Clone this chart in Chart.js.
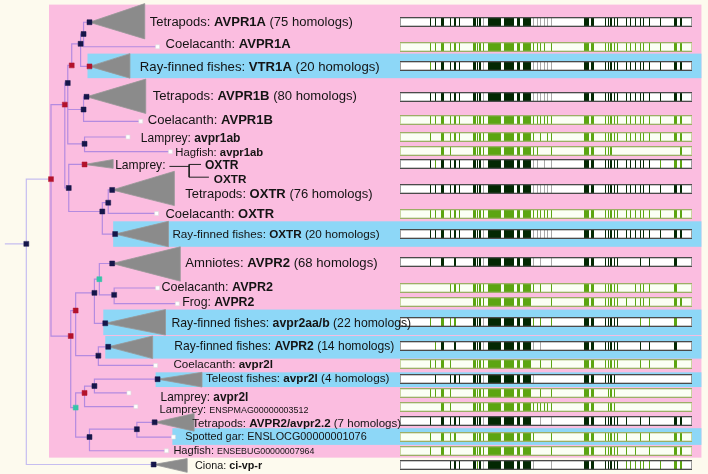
<!DOCTYPE html>
<html><head><meta charset="utf-8">
<script src="https://cdn.jsdelivr.net/npm/chart.js@4"></script>
<style>html,body{margin:0;padding:0;background:#fdfaee;}#wrap{width:708px;height:474px;position:relative;}</style>
</head><body><div id="wrap"><canvas id="c"></canvas></div>
<script>
// ---------- tree data (x = branch depth, y = row position) ----------
const nodeX = [22,47,61,64,68,77,80,86,155,86,80,83,138,81,125,168,65,81,99,105,109,154,112,67,72,91,96,109,111,155,175,102,95,105,153,72,81,91,155,126,133,86,134,152,171,164,151];
const nodeY = [244,178,102,80,62,40,30,18,43,63,107,94,119,142,135,150,187,163,211,202,189,213,234,338,312,294,280,264,296,289,305,325,358,349,368,411,396,389,382,396,410,441,433,426,441,455,469];
const nodeParent = [-1,0,1,2,3,4,5,6,6,5,3,10,10,3,13,13,2,16,16,18,19,19,18,1,23,24,25,26,26,28,28,25,24,32,32,23,35,36,37,37,36,35,41,42,42,41,0];
const nodeKind = "nrrnrnnnlrnnlnllnrnnnlnrrntnnllnnnltrnnllnnnlln".split('');
const rootStemX = 0;

// collapsed clades (triangles): apex node, base depth, top row, bottom row
const triApex = [7,9,11,17,20,22,27,31,33,38,43,46];
const triBase = [142,127,143,110,172,166,178,163,150,200,192,185];
const triTop  = [-1,50,76,158,170,221,247,311,338,375,417,463];
const triBot  = [35,75,111,167,205,247,282,337,361,390,435,477];

// shaded groups
const pinkBox = [45,0,706,462];
const bandX0 = [84,110,100,102,153,170];
const bandY0 = [50,221,311,338,375,432];
const bandY1 = [75,247,337,361,390,449];
const bandX1 = 706;

// labels
const labelParts = [
 [["Tetrapods: ","n"],["AVPR1A","b"],[" (75 homologs)","n"]],
 [["Coelacanth: ","n"],["AVPR1A","b"]],
 [["Ray-finned fishes: ","n"],["VTR1A","b"],[" (20 homologs)","n"]],
 [["Tetrapods: ","n"],["AVPR1B","b"],[" (80 homologs)","n"]],
 [["Coelacanth: ","n"],["AVPR1B","b"]],
 [["Lamprey: ","n"],["avpr1ab","b"]],
 [["Hagfish: ","n"],["avpr1ab","b"]],
 [["Lamprey:","n"]],
 [["OXTR","b"]],
 [["OXTR","b"]],
 [["Tetrapods: ","n"],["OXTR","b"],[" (76 homologs)","n"]],
 [["Coelacanth: ","n"],["OXTR","b"]],
 [["Ray-finned fishes: ","n"],["OXTR","b"],[" (20 homologs)","n"]],
 [["Amniotes: ","n"],["AVPR2","b"],[" (68 homologs)","n"]],
 [["Coelacanth: ","n"],["AVPR2","b"]],
 [["Frog: ","n"],["AVPR2","b"]],
 [["Ray-finned fishes: ","n"],["avpr2aa/b","b"],[" (22 homologs)","n"]],
 [["Ray-finned fishes: ","n"],["AVPR2","b"],[" (14 homologs)","n"]],
 [["Coelacanth: ","n"],["avpr2l","b"]],
 [["Teleost fishes: ","n"],["avpr2l","b"],[" (4 homologs)","n"]],
 [["Lamprey: ","n"],["avpr2l","b"]],
 [["Lamprey: ","n"],["ENSPMAG00000003512","s"]],
 [["Tetrapods: ","n"],["AVPR2/avpr2.2","b"],[" (7 homologs)","n"]],
 [["Spotted gar: ENSLOCG00000001076","n"]],
 [["Hagfish: ","n"],["ENSEBUG00000007964","s"]],
 [["Ciona: ","n"],["ci-vp-r","b"]]
];
const labelX   = [147,163,137,150,145,138,173,112,203,212,183,163,170,183,159,180,169,172,171,204,158,157,190,183,171,193];
const labelY   = [18,40,63,93,118,136,151,164,164,178,193,213,234,263,288,303,325,348,367,381,400,413,427,440,455,470];
const labelEnd = [353,290,380,357,272,239,262,163,237,245,373,273,380,378,272,253,412,395,272,390,247,308,402,367,314,261];

// lamprey OXTR bracket
const bracketX = [167,187,null,199,187,187,207];
const bracketY = [165,165,null,163,163,176,176];

// alignment overview
const alnX0 = 401, alnLen = 295;
const colStart = [29.5,35,41.3,50.7,54.7,59.3,73.3,77.7,79.7,83.3,88.3,105,117.7,124,134.7,138,141.7,145,148.3,152.3,185.7,192.7,207.3,210,212,216,219,229,233,237.7,242.3,246,252.3,263,277.7,283.7];
const colEnd   = [31,36,44,51.7,56.7,60.3,76.3,79,81.7,84.3,102.3,115,121.3,132.3,135.7,139,142.7,146,149.3,153.3,190.7,196.3,208.3,211,214.3,217,220,230,234,238.7,243.3,247,253.3,264,280,285];
const barY = [18,43,63,94,118,135,149,163,188,214,234,263,289,303,324,348,367,382,396,410,425,441,455,470];
const barKind = "dgddgggddgddggddgdggdggd".split('');
const barPattern = [
 "DDDDDD DDDL DDDD LLLLLL DD DDDDD DDDDDDD DD",
 "GGGGGG GGGG GGGG GGGG.G GG GGGGG GGGGGGG GG",
 "GDDDDD DDDL DDDD LLLLLL DD DDDDD DDDDDDD DD",
 "DDDDDD DDDL DDDD LLLLLL DD DDDDD DDDDDDD DD",
 "GGGGGG GGGG GGGG GGGGGG GG GGGGG GGGGGGG GG",
 "G.GGGG GGGG GGGG G.G.GG GG GGGGG GGGGGGG GG",
 "..GG.. GGGG GGGG GG...G GG GGG.. ....... .G",
 "DGDDDD DDDL DDDD LL.L.L DD DDDDD DDDDDDG GG",
 "DDDDDD DDDL DDDD LLLLLL DD DDDDD DDDDDDD DD",
 "GGGGGG GGGG GGGG GGGGGG GG GGGGG GGGGGGG GG",
 "DDDDDD DDDL DDDD LLLLLL DD DDDDD DDDDDDD DD",
 "D.D.D. DDDL DDDD L.L..L DD DDDDD ...D.D. D.",
 "...GGG GGGG GGGG G.G..G GG GGGGG ..GGGG. G.",
 "...... GGGG GGGG .....G GG GGGGG G.GGGG. GG",
 "G.GGG. DDDL DDDD G.G..G DD DDDDD ...G.G. G.",
 ".GD.D. DDDL DDDD L.L... DD DDDDD ...D.D. D.",
 "GGGG.. GGGG GGGG ..G..G GG GGGGG ...G.G. G.",
 ".D.DDD DDDL DDDD L..... DD DDDD. ....... ..",
 "GGGG.. GGGG GGGG ..G..G GG .GGG. ....... ..",
 "..GG.. GGGG GGGG GGGGGG GG .GGG. ....... ..",
 "D.DDDD DDDL DDDD ..L..L DD DDDDD D..D.D. DD",
 "G.GGG. GGGG GGGG G....G GG GGGGG G..G.G. GG",
 "G.GG.. GGGG GGGG .....G GG GGGGG G.G..G. GG",
 "...DDD DGDL DDDD L....L DD DDDDD GGGGGGG GG"
];

// ---------- styles ----------
const CREAM='#fdfaee', PINK='#fbbde0', BLUE='#8dd7f7', TRI='#8b8b8b';
const EDGE='#b48be0', EDGE_OUT='#c6bdf0';
const KIND_COL={n:'#16164a', r:'#b3122c', t:'#35c4a8'};
const CELL_COL={D:'#032803', G:'#5ca512', L:'#a9a9a9'};
const FAM='"Liberation Sans", Arial, Helvetica, sans-serif';

// ---------- build datasets ----------
const inner=[], outer=[];
for(let i=0;i<nodeX.length;i++){
  const p=nodeParent[i]; if(p<0) continue;
  const arr = p===0 ? outer : inner;
  arr.push({x:nodeX[p],y:nodeY[p]},{x:nodeX[p],y:nodeY[i]},{x:nodeX[i],y:nodeY[i]},{x:nodeX[i],y:null});
}
outer.push({x:rootStemX,y:nodeY[0]},{x:nodeX[0],y:nodeY[0]});
const markPts=[], markCols=[], leafPts=[];
nodeX.forEach((x,i)=>{
  if(nodeKind[i]==='l') leafPts.push({x,y:nodeY[i]});
  else { markPts.push({x,y:nodeY[i]}); markCols.push(KIND_COL[nodeKind[i]]); }
});
const bracket = bracketX.map((x,i)=>({x:x===null?0:x,y:bracketY[i]}));

const paintPlugin={
  id:'paint',
  beforeDatasetsDraw(chart){
    const {ctx,scales:{x,y}}=chart;
    const X=v=>x.getPixelForValue(v), Y=v=>y.getPixelForValue(v);
    ctx.save();
    ctx.fillStyle=CREAM; ctx.fillRect(0,0,chart.width,chart.height);
    ctx.fillStyle=PINK;
    ctx.fillRect(X(pinkBox[0]),Y(pinkBox[1]),X(pinkBox[2])-X(pinkBox[0]),Y(pinkBox[3])-Y(pinkBox[1]));
    ctx.fillStyle=BLUE;
    bandX0.forEach((bx,i)=>{ctx.fillRect(X(bx),Y(bandY0[i]),X(bandX1)-X(bx),Y(bandY1[i])-Y(bandY0[i]));});
    // triangles
    ctx.fillStyle=TRI; ctx.strokeStyle='#989898'; ctx.lineWidth=0.8;
    triApex.forEach((a,i)=>{
      ctx.beginPath();
      ctx.moveTo(X(nodeX[a]),Y(nodeY[a]));
      ctx.lineTo(X(triBase[i]),Y(triTop[i]));
      ctx.lineTo(X(triBase[i]),Y(triBot[i]));
      ctx.closePath(); ctx.fill(); ctx.stroke();
    });
    // alignment bars
    barY.forEach((by,r)=>{
      const yc=Y(by), top=Math.round(yc-4), h=8;
      const x0=Math.round(X(alnX0)), x1=Math.round(X(alnX0+alnLen));
      const dark=barKind[r]==='d';
      ctx.fillStyle=dark?'#ffffff':'#fbfff4';
      ctx.fillRect(x0,top,x1-x0,h);
      const pat=barPattern[r].replace(/ /g,'');
      for(let c=0;c<colStart.length;c++){
        const ch=pat[c]; if(!ch||ch==='.') continue;
        const a=Math.round(X(alnX0+colStart[c])), b=Math.round(X(alnX0+colEnd[c]));
        ctx.fillStyle=CELL_COL[ch];
        ctx.fillRect(a,top,Math.max(1,b-a),h);
      }
      ctx.fillStyle=dark?'#4a4a4a':'#9cae66';
      ctx.fillRect(x0,top-1,x1-x0,1.3);
      ctx.fillRect(x0,top+h-0.3,x1-x0,1.3);
      ctx.fillStyle=dark?'#9a9a9a':'#c8d4a0';
      ctx.fillRect(x0,top,1,h); ctx.fillRect(x1-1,top,1,h);
    });
    ctx.restore();
  },
  afterDatasetsDraw(chart){
    const {ctx,scales:{x,y}}=chart;
    const X=v=>x.getPixelForValue(v), Y=v=>y.getPixelForValue(v);
    ctx.save();
    ctx.textBaseline='middle'; ctx.fillStyle='#141414';
    const fontFor=(st,s)=>(st==='b'?'bold ':'')+(st==='s'?(s*0.8).toFixed(2):s.toFixed(2))+'px '+FAM;
    labelParts.forEach((parts,i)=>{
      const base=13; let w=0;
      parts.forEach(([t,st])=>{ctx.font=fontFor(st,base); w+=ctx.measureText(t).width;});
      const px=X(labelX[i]), target=X(labelEnd[i])-px;
      const s=Math.max(9,Math.min(15,base*target/w));
      let cx=px; const py=Y(labelY[i])+0.5;
      parts.forEach(([t,st])=>{ctx.font=fontFor(st,s); ctx.fillText(t,cx,py); cx+=ctx.measureText(t).width;});
    });
    ctx.restore();
  }
};

new Chart(document.getElementById('c'),{
  type:'scatter',
  data:{datasets:[
    {type:'scatter',data:markPts,pointStyle:'rect',pointRadius:3.5,backgroundColor:markCols,borderColor:markCols,borderWidth:0.5,order:0},
    {type:'scatter',data:leafPts,pointStyle:'rect',pointRadius:2.8,backgroundColor:'#ffffff',borderColor:'#dedede',borderWidth:0.6,order:1},
    {type:'line',data:bracket,borderColor:'#222',borderWidth:1,pointRadius:0,spanGaps:false,fill:false,tension:0,order:2},
    {type:'line',data:inner,borderColor:EDGE,borderWidth:1.2,pointRadius:0,spanGaps:false,fill:false,tension:0,borderJoinStyle:'miter',order:3},
    {type:'line',data:outer,borderColor:EDGE_OUT,borderWidth:1.2,pointRadius:0,spanGaps:false,fill:false,tension:0,borderJoinStyle:'miter',order:4}
  ]},
  options:{
    responsive:true,maintainAspectRatio:false,animation:false,events:[],
    layout:{padding:0},
    plugins:{legend:{display:false},tooltip:{enabled:false}},
    scales:{
      x:{type:'linear',min:0,max:708,display:false},
      y:{type:'linear',min:0,max:474,reverse:true,display:false}
    }
  },
  plugins:[paintPlugin]
});
</script></body></html>
